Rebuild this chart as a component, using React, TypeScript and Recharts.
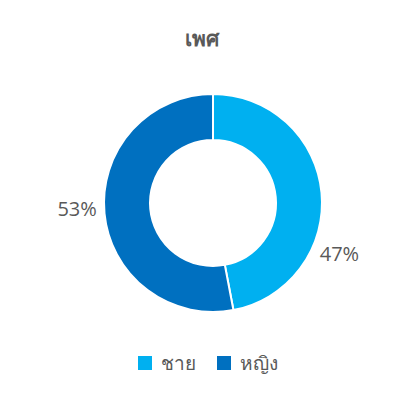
import { PieChart, Pie, Cell, Legend } from "recharts";

const CATEGORIES = ["ชาย", "หญิง"];
const VALUES = [47, 53];
const COLORS = ["#00B0F0", "#0070C0"];
const TITLE = "เพศ";

const data = CATEGORIES.map((name, i) => ({ name, value: VALUES[i] }));

const FONT = "'Open Sans', 'Noto Sans', sans-serif";
const RADIAN = Math.PI / 180;

// Excel's best-fit labels: nudge the first one down a bit
const renderLabel = (props: any) => {
  const { cx, cy, midAngle, outerRadius, index, value } = props;
  const angle = index === 0 ? midAngle - 27 : midAngle - 3;
  const r = outerRadius + 27;
  const x = cx + r * Math.cos(-angle * RADIAN);
  const y = cy + r * Math.sin(-angle * RADIAN);
  return (
    <text
      x={x}
      y={y}
      fill="#595959"
      fontSize={20}
      fontFamily={FONT}
      fontWeight={400}
      textAnchor="middle"
      dominantBaseline="central"
    >
      {`${value}%`}
    </text>
  );
};

const renderLegend = (props: any) => {
  const { payload } = props;
  return (
    <div style={{ display: "flex", justifyContent: "center", gap: 21, paddingLeft: 11 }}>
      {payload.map((entry: any, i: number) => (
        <div key={i} style={{ display: "flex", alignItems: "center" }}>
          <span
            style={{ width: 14, height: 14, background: entry.color, display: "inline-block", marginRight: 9 }}
          />
          <span style={{ color: "#595959", fontSize: 19, fontFamily: FONT, fontWeight: 400 }}>{entry.value}</span>
        </div>
      ))}
    </div>
  );
};

export default function App() {
  return (
    <div style={{ position: "absolute", left: 0, top: 0, width: 404, height: 401, background: "#fff" }}>
      <div
        style={{
          position: "absolute",
          top: 22,
          left: 0,
          width: 404,
          textAlign: "center",
          color: "#595959",
          fontSize: 21,
          fontWeight: 700,
          fontFamily: FONT,
        }}
      >
        {TITLE}
      </div>
      <PieChart width={404} height={401} margin={{ top: 0, right: 0, bottom: 0, left: 0 }}>
        <Pie
          data={data}
          dataKey="value"
          nameKey="name"
          cx={213}
          cy={203}
          innerRadius={63}
          outerRadius={109}
          startAngle={90}
          endAngle={-270}
          stroke="#fff"
          strokeWidth={2}
          label={renderLabel}
          labelLine={false}
          isAnimationActive={false}
        >
          {data.map((_, i) => (
            <Cell key={i} fill={COLORS[i]} />
          ))}
        </Pie>
        <Legend
          verticalAlign="bottom"
          wrapperStyle={{ top: 348, left: 0, width: 404, bottom: "auto" }}
          content={renderLegend}
        />
      </PieChart>
    </div>
  );
}
